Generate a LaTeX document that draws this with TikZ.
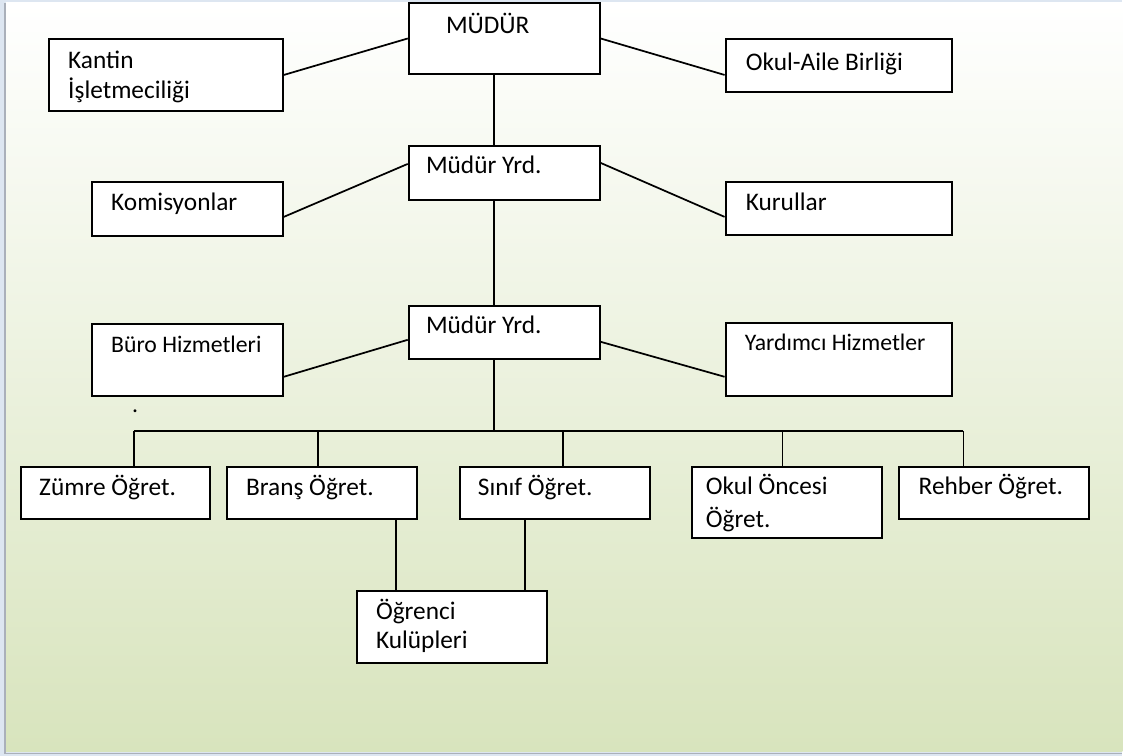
\documentclass[tikz,border=0pt]{standalone}
\usepackage{fontspec}
\setmainfont{Carlito}
\usetikzlibrary{fit,calc}
\begin{document}
\begin{tikzpicture}[x=0.75pt,y=-0.75pt,
  box/.style={draw=black,line width=1.5pt,fill=white,inner sep=0pt},
  conn/.style={draw=black,line width=1.3pt},
  lbl/.style={anchor=base west,inner sep=0pt,font=\fontsize{19}{23}\selectfont},
  lbls/.style={anchor=base west,inner sep=0pt,font=\fontsize{17.8}{21}\selectfont}]
% frame and background
\fill[fill={rgb,255:red,221;green,230;blue,241}] (0,0) rectangle (1123,756);
\shade[top color=white,bottom color={rgb,255:red,216;green,228;blue,189}] (6,3) rectangle (1123,752);
\draw[line width=1pt,color={rgb,255:red,170;green,176;blue,186}] (5,3) -- (5,754) -- (1123,754);
\useasboundingbox (0,0) rectangle (1123,756);

% boxes
\node[box,fit={(409,3)(600,74)}] (mudur) {};
\node[box,fit={(49,39)(283,111)}] (kantin) {};
\node[box,fit={(726,39)(953,92)}] (okul) {};
\node[box,fit={(409,146)(600,200)}] (yrd1) {};
\node[box,fit={(92,182)(283,236)}] (komis) {};
\node[box,fit={(726,182)(953,235)}] (kurul) {};
\node[box,fit={(409,306)(600,359)}] (yrd2) {};
\node[box,fit={(92,324)(283,396)}] (buro) {};
\node[box,fit={(726,323)(953,396)}] (yard) {};
\node[box,fit={(21,467)(210,519)}] (zumre) {};
\node[box,fit={(227,467)(417,519)}] (brans) {};
\node[box,fit={(460,467)(650,519)}] (sinif) {};
\node[box,fit={(692,467)(883,538)}] (oncesi) {};
\node[box,fit={(900,467)(1090,519)}] (rehber) {};
\node[box,fit={(357,591)(547,663)}] (ogrenci) {};

% texts
\node[lbl] (tmudur) at (446,34) {MÜDÜR};
\node[lbl] (tkantin1) at (68,69) {Kantin};
\node[lbl] (tkantin2) at (68,99) {İşletmeciliği};
\node[lbl] (tokul) at (746,71) {Okul-Aile Birliği};
\node[lbl] (tyrd1) at (426,174) {Müdür Yrd.};
\node[lbl] (tkomis) at (111,211) {Komisyonlar};
\node[lbl] (tkurul) at (746,211) {Kurullar};
\node[lbl] (tyrd2) at (426,334) {Müdür Yrd.};
\node[lbls] (tburo) at (111,353) {Büro Hizmetleri};
\node[lbls] (tyard) at (745,351) {Yardımcı Hizmetler};
\node[lbl] (tzumre) at (39,496) {Zümre Öğret.};
\node[lbl] (tbrans) at (246,496) {Branş Öğret.};
\node[lbl] (tsinif) at (478,496) {Sınıf Öğret.};
\node[lbl] (toncesi1) at (706,495) {Okul Öncesi};
\node[lbl] (toncesi2) at (706,528) {Öğret.};
\node[lbl] (trehber) at (919,495) {Rehber Öğret.};
\node[lbl] (togr1) at (376,620) {Öğrenci};
\node[lbl] (togr2) at (376,649) {Kulüpleri};
\node[lbls] (tdot) at (132,413) {.};

% helper coordinates
\coordinate (vx) at (494,0);
\coordinate (bus) at (494,431);
\coordinate (d1) at (134,431);
\coordinate (d2) at (318,431);
\coordinate (d3) at (563,431);
\coordinate (d4) at (783,431);
\coordinate (d5) at (964,431);
\coordinate (b1) at (396,0);
\coordinate (b2) at (525,0);

% connectors
\draw[conn] (kantin.east) -- (mudur.west);
\draw[conn] (mudur.west -| mudur.east) -- ($(okul.west)+(0,9.5)$);
\draw[conn] (vx |- mudur.south) -- (vx |- yrd1.north);
\draw[conn] ($(komis.east)+(0,8)$) -- ($(yrd1.west)+(0,-9)$);
\draw[conn] ($(yrd1.east)+(0,-10)$) -- ($(kurul.west)+(0,8.5)$);
\draw[conn] (vx |- yrd1.south) -- (vx |- yrd2.north);
\draw[conn] ($(buro.east)+(0,17)$) -- ($(yrd2.west)+(0,7.5)$);
\draw[conn] ($(yrd2.east)+(0,9.5)$) -- ($(yard.west)+(0,17.5)$);
\draw[conn] (vx |- yrd2.south) -- (bus);
\draw[conn] (d1) -- (d5);
\draw[conn] (d1) -- (d1 |- zumre.north);
\draw[conn] (d2) -- (d2 |- brans.north);
\draw[conn] (d3) -- (d3 |- sinif.north);
\draw[conn] (d4) -- (d4 |- oncesi.north);
\draw[conn] (d5) -- (d5 |- rehber.north);
\draw[conn] (b1 |- brans.south) -- (b1 |- ogrenci.north);
\draw[conn] (b2 |- sinif.south) -- (b2 |- ogrenci.north);
\end{tikzpicture}
\end{document}
